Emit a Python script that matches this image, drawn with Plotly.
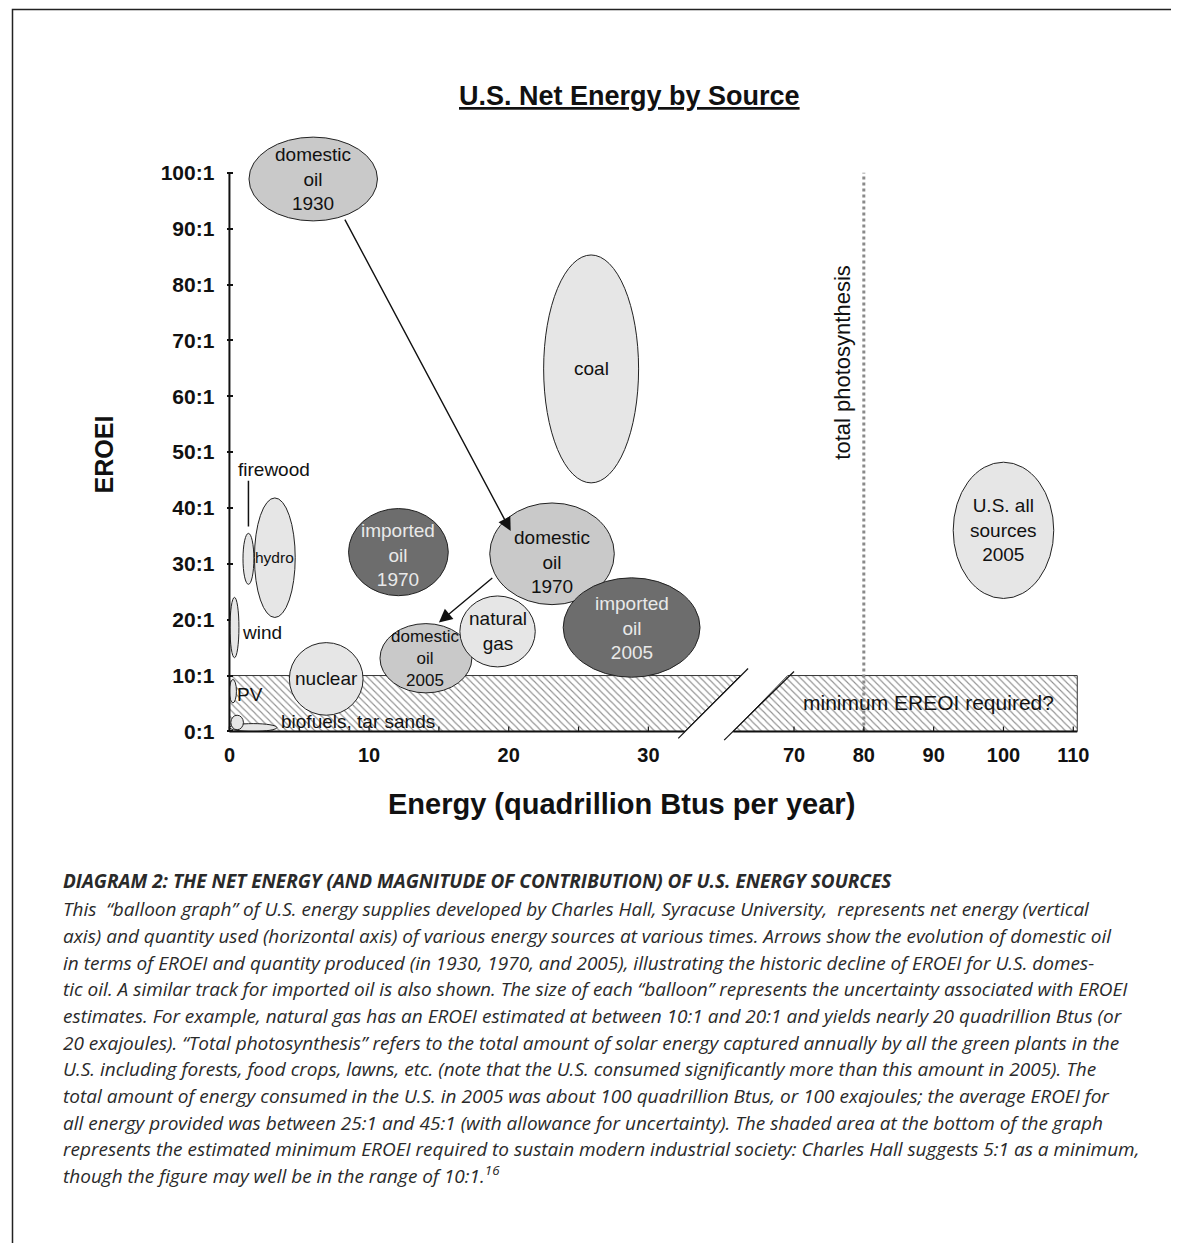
import plotly.graph_objects as go

W, H = 1179, 1243
OFF = 8  # page body margin
FONT = "Liberation Sans, Arial, sans-serif"
CAP_FONT = "Open Sans, sans-serif"

# ---------------- data ----------------
y_tick_vals = [0, 10, 20, 30, 40, 50, 60, 70, 80, 90, 100]
y_tick_text = ["0:1", "10:1", "20:1", "30:1", "40:1", "50:1", "60:1", "70:1", "80:1", "90:1", "100:1"]
x_left_ticks = [0, 5, 10, 15, 20, 25, 30]
x_left_text = ["0", "", "10", "", "20", "", "30"]
x_right_ticks = [70, 80, 90, 100, 110]
x_right_text = ["70", "80", "90", "100", "110"]

# balloons on the left (0-32) segment
bal_labels = ["domestic<br>oil<br>1930", "coal", "", "hydro", "", "", "", "", "nuclear",
              "domestic<br>oil<br>2005", "natural<br>gas", "imported<br>oil<br>1970",
              "domestic<br>oil<br>1970", "imported<br>oil<br>2005"]
bal_x = [6.0, 25.9, 1.36, 3.25, 0.36, 0.25, 1.7, 0.55, 6.93, 14.07, 19.2, 12.1, 23.1, 28.8]
bal_y = [98.9, 64.9, 30.9, 31.1, 18.6, 7.2, 0.7, 1.6, 9.4, 13.1, 17.9, 32.1, 31.8, 18.6]
bal_rx = [4.6, 3.4, 0.39, 1.46, 0.32, 0.25, 1.7, 0.45, 2.64, 3.29, 2.7, 3.57, 4.46, 4.9]
bal_ry = [7.5, 20.4, 4.56, 10.7, 5.4, 2.1, 0.7, 1.3, 6.5, 6.2, 6.35, 7.8, 9.1, 8.9]
bal_label_y = [98.9, 64.9, 30.9, 31.1, 18.6, 7.2, 0.7, 1.6, 9.4, 13.1, 17.9, 31.6, 30.4, 18.6]
bal_kind = ["mid", "light", "light", "light", "light", "light", "light", "light", "light",
            "mid", "light", "dark", "mid", "dark"]
bal_fsize = [19, 19, 19, 15.5, 19, 19, 19, 19, 19, 17, 19, 19, 19, 19]

# balloon on the right (70-110) segment
all_label = "U.S. all<br>sources<br>2005"
all_x, all_y, all_rx, all_ry = 100, 36, 7.2, 12.2

# side labels (left segment)
side_text = ["firewood", "wind", "PV", "biofuels, tar sands"]
side_x = [3.2, 2.36, 1.5, 9.2]
side_y = [46.9, 17.7, 6.6, 1.8]

# arrows: (tail) -> (head)
arrow_tail_x = [8.21, 18.93]
arrow_tail_y = [91.9, 27.7]
arrow_head_x = [20.14, 15.0]
arrow_head_y = [35.9, 19.5]

# minimum EROEI band
min_eroei = 10
left_break_bottom, left_break_top = 32.6, 36.6
right_break_bottom, right_break_top = 61.3, 69.1
right_end = 110.57
photosynthesis_x = 80
photosynthesis_top = 100

caption_head = "DIAGRAM 2: THE NET ENERGY (AND MAGNITUDE OF CONTRIBUTION) OF U.S. ENERGY SOURCES"
caption_lines = [
    "This  “balloon graph” of U.S. energy supplies developed by Charles Hall, Syracuse University,  represents net energy (vertical",
    "axis) and quantity used (horizontal axis) of various energy sources at various times. Arrows show the evolution of domestic oil",
    "in terms of EROEI and quantity produced (in 1930, 1970, and 2005), illustrating the historic decline of EROEI for U.S. domes-",
    "tic oil. A similar track for imported oil is also shown. The size of each “balloon” represents the uncertainty associated with EROEI",
    "estimates. For example, natural gas has an EROEI estimated at between 10:1 and 20:1 and yields nearly 20 quadrillion Btus (or",
    "20 exajoules). “Total photosynthesis” refers to the total amount of solar energy captured annually by all the green plants in the",
    "U.S. including forests, food crops, lawns, etc. (note that the U.S. consumed significantly more than this amount in 2005). The",
    "total amount of energy consumed in the U.S. in 2005 was about 100 quadrillion Btus, or 100 exajoules; the average EROEI for",
    "all energy provided was between 25:1 and 45:1 (with allowance for uncertainty). The shaded area at the bottom of the graph",
    "represents the estimated minimum EROEI required to sustain modern industrial society: Charles Hall suggests 5:1 as a minimum,",
    "though the figure may well be in the range of 10:1.<sup>16</sup>",
]

# ---------------- styling ----------------
FILL = {"light": "#e6e6e6", "mid": "#c9c9c9", "dark": "#6d6d6d"}
TXT = {"light": "#111111", "mid": "#111111", "dark": "#e9e9e9"}

PX0 = 227          # x=0 pixel on the page
PXU_L = 14.0       # px per unit left segment
PX70 = 793         # x=70 pixel
PXU_R = 7.0
PY0 = 732          # y=0 pixel
PYU = 5.59


def px(v):
    return (v - OFF) / W


def py(v):
    return 1 - (v - OFF) / H


xl_range = [-0.15, (800 - PX0) / PXU_L]
xl_dom = [px(PX0 - 0.15 * PXU_L), px(800)]
xr_range = [70 - (PX70 - 715) / PXU_R, 70 + (1100 - PX70) / PXU_R]
xr_dom = [px(715), px(1100)]
y_range = [(PY0 - 742) / PYU, (PY0 - 120) / PYU]
y_dom = [py(742), py(120)]

fig = go.Figure()

hatch = dict(shape="\\", fgcolor="#222222", bgcolor="white", size=5, solidity=0.22)
fig.add_trace(go.Scatter(
    x=[0, 0, left_break_top, left_break_bottom, 0],
    y=[0, min_eroei, min_eroei, 0, 0],
    fill="toself", fillpattern=hatch, fillcolor="white",
    line=dict(color="#333333", width=1), mode="lines",
    xaxis="x", yaxis="y", hoverinfo="skip", showlegend=False))
fig.add_trace(go.Scatter(
    x=[right_break_bottom, right_break_top, right_end, right_end, right_break_bottom],
    y=[0, min_eroei, min_eroei, 0, 0],
    fill="toself", fillpattern=hatch, fillcolor="white",
    line=dict(color="#333333", width=1), mode="lines",
    xaxis="x2", yaxis="y", hoverinfo="skip", showlegend=False))
fig.add_trace(go.Scatter(
    x=[photosynthesis_x, photosynthesis_x], y=[0, photosynthesis_top],
    mode="lines", line=dict(color="#8a8a8a", width=3, dash="dot"),
    xaxis="x2", yaxis="y", hoverinfo="skip", showlegend=False))

shapes = []
annotations = []

# balloons
for lab, cx, cy, rx, ry, ly, kind, fs in zip(bal_labels, bal_x, bal_y, bal_rx, bal_ry, bal_label_y,
                                             bal_kind, bal_fsize):
    shapes.append(dict(type="circle", xref="x", yref="y", x0=cx - rx, x1=cx + rx, y0=cy - ry, y1=cy + ry,
                       fillcolor=FILL[kind], line=dict(color="#222222", width=1)))
    if lab:
        annotations.append(dict(x=cx, y=ly, xref="x", yref="y", text=lab, showarrow=False,
                                font=dict(family=FONT, size=fs, color=TXT[kind])))
shapes.append(dict(type="circle", xref="x2", yref="y", x0=all_x - all_rx, x1=all_x + all_rx,
                   y0=all_y - all_ry, y1=all_y + all_ry, fillcolor=FILL["light"],
                   line=dict(color="#222222", width=1)))
annotations.append(dict(x=all_x, y=all_y, xref="x2", yref="y", text=all_label, showarrow=False,
                        font=dict(family=FONT, size=19, color="#111111")))

for t, x, y in zip(side_text, side_x, side_y):
    annotations.append(dict(x=x, y=y, xref="x", yref="y", text=t, showarrow=False,
                            font=dict(family=FONT, size=19, color="#111111")))
# firewood leader line
shapes.append(dict(type="line", xref="x", yref="y", x0=bal_x[2], x1=bal_x[2], y0=36.7, y1=44.9,
                   line=dict(color="#111111", width=1.5)))

# arrows
for tx, ty, hx, hy in zip(arrow_tail_x, arrow_tail_y, arrow_head_x, arrow_head_y):
    annotations.append(dict(x=hx, y=hy, ax=tx, ay=ty, xref="x", yref="y", axref="x", ayref="y",
                            text="", showarrow=True, arrowhead=2, arrowsize=1.9, arrowwidth=1.4,
                            arrowcolor="#111111", standoff=0, startstandoff=0))

# axis lines
shapes.append(dict(type="line", xref="x", yref="y", x0=0, x1=0, y0=0, y1=100,
                   line=dict(color="#111111", width=2)))
shapes.append(dict(type="line", xref="x", yref="y", x0=0, x1=left_break_bottom, y0=0, y1=0,
                   line=dict(color="#111111", width=2)))
shapes.append(dict(type="line", xref="x2", yref="y", x0=right_break_bottom, x1=right_end, y0=0, y1=0,
                   line=dict(color="#111111", width=2)))
for v in x_left_ticks:
    shapes.append(dict(type="line", xref="x", yref="y", x0=v, x1=v, y0=0, y1=0.9,
                       line=dict(color="#111111", width=1.2)))
for v in x_right_ticks:
    shapes.append(dict(type="line", xref="x2", yref="y", x0=v, x1=v, y0=0, y1=0.9,
                       line=dict(color="#111111", width=1.2)))
# break marks
shapes.append(dict(type="line", xref="x", yref="y", x0=32.14, x1=37.14, y0=-1.25, y1=11.27,
                   line=dict(color="#111111", width=1.2)))
shapes.append(dict(type="line", xref="x2", yref="y", x0=60.0, x1=70.0, y0=-1.55, y1=10.73,
                   line=dict(color="#111111", width=1.2)))

annotations.append(dict(x=89.3, y=5.2, xref="x2", yref="y", text="minimum EREOI required?",
                        showarrow=False, font=dict(family=FONT, size=21, color="#111111")))
annotations.append(dict(x=77, y=66, xref="x2", yref="y", text="total photosynthesis", textangle=-90,
                        showarrow=False, font=dict(family=FONT, size=22, color="#111111")))

# titles
annotations.append(dict(x=px(628), y=py(79), xref="paper", yref="paper",
                        text="<b><u>U.S. Net Energy by Source</u></b>", showarrow=False,
                        font=dict(family=FONT, size=27, color="#111111")))
annotations.append(dict(x=px(620), y=py(805), xref="paper", yref="paper",
                        text="<b>Energy (quadrillion Btus per year)</b>", showarrow=False,
                        font=dict(family=FONT, size=29, color="#111111")))
annotations.append(dict(x=px(85), y=py(455), xref="paper", yref="paper", textangle=-90,
                        text="<b>EROEI</b>", showarrow=False,
                        font=dict(family=FONT, size=25, color="#111111")))

# caption
annotations.append(dict(x=px(58), y=py(897), xref="paper", yref="paper", xanchor="left",
                        text="<b><i>" + caption_head + "</i></b>", showarrow=False,
                        font=dict(family=CAP_FONT, size=19, color="#2a2a2a")))
for i, line in enumerate(caption_lines):
    annotations.append(dict(x=px(58), y=py(925 + 26.7 * i), xref="paper", yref="paper",
                            xanchor="left", text="<i>" + line + "</i>", showarrow=False,
                            font=dict(family=CAP_FONT, size=19, color="#2a2a2a")))

# page frame (top and left edges of the printed page)
shapes.append(dict(type="rect", xref="paper", yref="paper", x0=px(9.5), x1=1.05, y0=-0.05, y1=py(9.5),
                   line=dict(color="#222222", width=1.5), fillcolor="rgba(0,0,0,0)"))

fig.update_layout(
    width=W, height=H, margin=dict(l=0, r=0, t=0, b=0),
    paper_bgcolor="white", plot_bgcolor="rgba(0,0,0,0)",
    showlegend=False, shapes=shapes, annotations=annotations,
    xaxis=dict(domain=xl_dom, range=xl_range, showgrid=False, zeroline=False, showline=False,
               tickvals=x_left_ticks, ticktext=x_left_text, ticks="", anchor="y",
               tickfont=dict(family=FONT, size=20, color="#111111", weight="bold")),
    xaxis2=dict(domain=xr_dom, range=xr_range, showgrid=False, zeroline=False, showline=False,
                tickvals=x_right_ticks, ticktext=x_right_text, ticks="", anchor="y",
                tickfont=dict(family=FONT, size=20, color="#111111", weight="bold")),
    yaxis=dict(domain=y_dom, range=y_range, showgrid=False, zeroline=False, showline=False,
               tickvals=y_tick_vals, ticktext=y_tick_text, ticks="inside", ticklen=6, tickwidth=1.5,
               tickcolor="#111111", anchor="x", ticklabelstandoff=12,
               tickfont=dict(family=FONT, size=21, color="#111111", weight="bold")),
)

fig.write_html("out.html")
